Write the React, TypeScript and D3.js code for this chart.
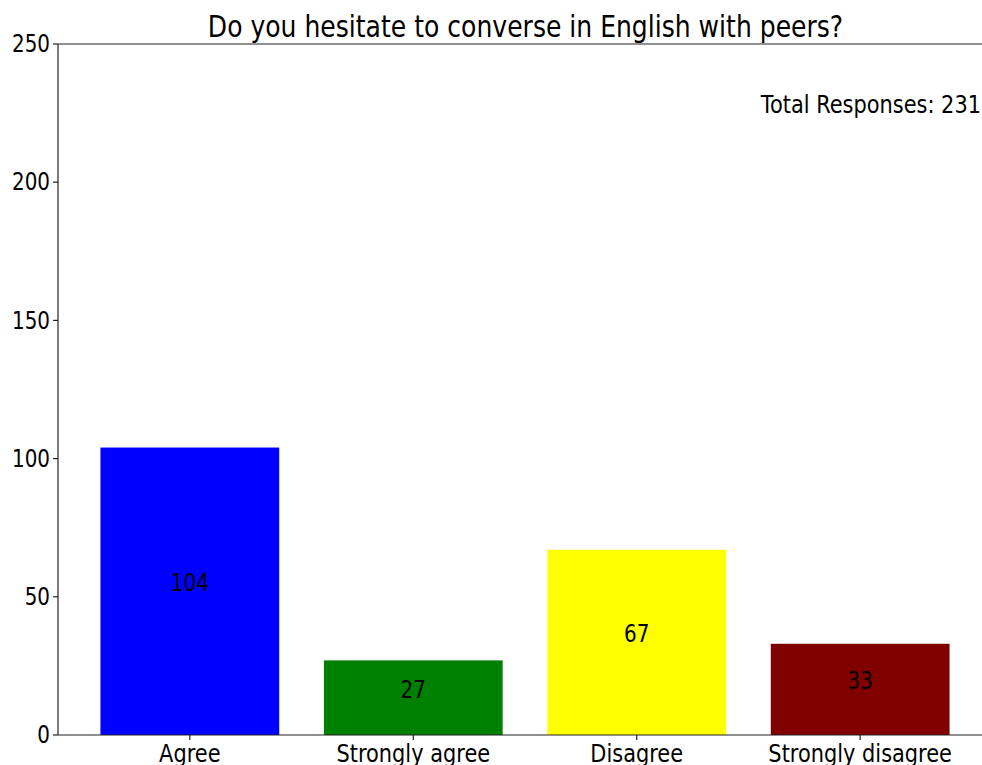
import React from "react";
import * as d3 from "d3";

const categories = ["Agree", "Strongly agree", "Disagree", "Strongly disagree"];
const values = [104, 27, 67, 33];
const colors = ["#0000ff", "#008000", "#ffff00", "#800000"];
const yTicks = [0, 50, 100, 150, 200, 250];
const title = "Do you hesitate to converse in English with peers?";
const totalLabel = "Total Responses: 231";

const W = 982;
const H = 765;
const SX = 0.83;
const FONT = "'DejaVu Sans', sans-serif";

function T({ x, y, anchor = "middle", size = 24, baseline, children }: any) {
  return (
    <text
      transform={`translate(${x},${y}) scale(${SX},1)`}
      textAnchor={anchor}
      dominantBaseline={baseline}
      fontSize={size}
      fontFamily={FONT}
      fill="#000"
    >
      {children}
    </text>
  );
}

export default function App() {
  const x = d3.scaleLinear().domain([-0.59, 3.59]).range([58, 992]);
  const y = d3.scaleLinear().domain([0, 250]).range([735, 44]);
  const bw = 0.8;

  return (
    <svg
      width={W}
      height={H}
      style={{ position: "absolute", left: 0, top: 0, background: "#fff" }}
    >
      <rect x={0} y={0} width={W} height={H} fill="#fff" />
      {values.map((v, i) => (
        <rect
          key={i}
          x={x(i - bw / 2)}
          y={y(v)}
          width={x(i + bw / 2) - x(i - bw / 2)}
          height={y(0) - y(v)}
          fill={colors[i]}
        />
      ))}
      {values.map((v, i) => (
        <T key={"l" + i} x={x(i)} y={y(v / 2)}>
          {String(v)}
        </T>
      ))}
      {/* spines */}
      <line x1={58} x2={58} y1={44} y2={735} stroke="#222" strokeWidth={1.2} />
      <line x1={58} x2={992} y1={735} y2={735} stroke="#222" strokeWidth={1.2} />
      <line x1={58} x2={992} y1={44} y2={44} stroke="#222" strokeWidth={1.2} />
      <line x1={992} x2={992} y1={44} y2={735} stroke="#222" strokeWidth={1.2} />
      {/* y ticks */}
      {yTicks.map((t) => (
        <g key={"y" + t}>
          <line x1={53} x2={58} y1={y(t)} y2={y(t)} stroke="#222" strokeWidth={1.2} />
          <T x={50} y={y(t)} anchor="end" baseline="central">
            {String(t)}
          </T>
        </g>
      ))}
      {/* x ticks */}
      {categories.map((c, i) => (
        <g key={"x" + i}>
          <line x1={x(i)} x2={x(i)} y1={735} y2={740} stroke="#222" strokeWidth={1.2} />
          <T x={x(i)} y={762} size={25.2}>
            {c}
          </T>
        </g>
      ))}
      <T x={525.5} y={37} size={30.2}>
        {title}
      </T>
      <T x={981} y={113} anchor="end" size={25.2}>
        {totalLabel}
      </T>
    </svg>
  );
}
